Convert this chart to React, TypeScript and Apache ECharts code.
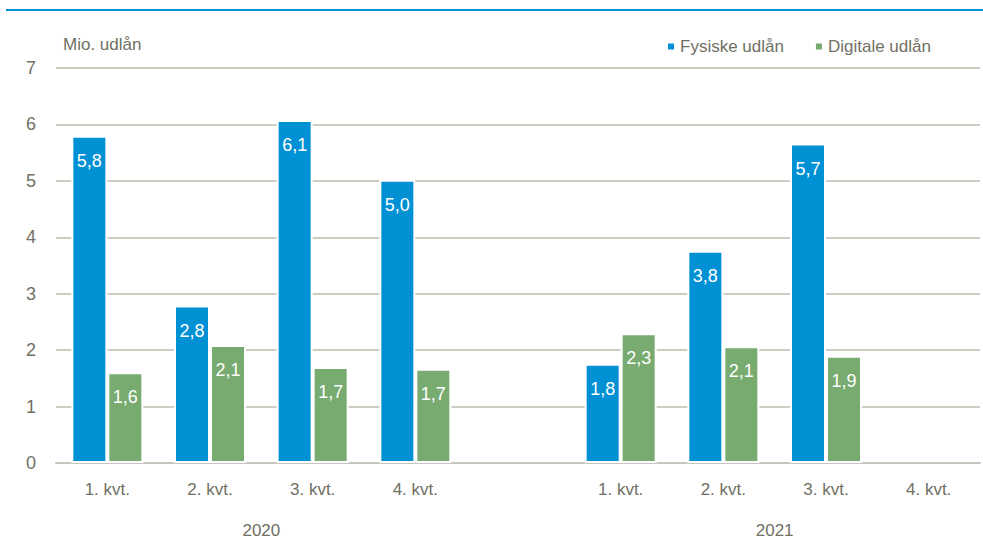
import React, { useEffect, useRef } from "react";
import * as echarts from "echarts";

const categories = ["1. kvt.", "2. kvt.", "3. kvt.", "4. kvt.", "", "1. kvt.", "2. kvt.", "3. kvt.", "4. kvt."];
const fysiske = [5.8, 2.79, 6.08, 5.02, null, 1.76, 3.76, 5.66, null];
const digitale = [1.61, 2.09, 1.7, 1.67, null, 2.3, 2.07, 1.9, null];
const yearLabels: Record<number, string> = { 2: "2020", 7: "2021" };
const seriesNames = ["Fysiske udlån", "Digitale udlån"];

const FONT = "'Liberation Sans', Arial, sans-serif";
const TXT = "#707064";

export default function App() {
  const ref = useRef<HTMLDivElement>(null);
  useEffect(() => {
    document.body.style.margin = "0";
    const chart = echarts.init(ref.current!, null, { renderer: "svg" });
    const label = {
      show: true,
      position: "insideTop",
      distance: 16,
      color: "#ffffff",
      fontFamily: FONT,
      fontSize: 18,
      formatter: (p: any) => (p.value == null ? "" : Number(p.value).toFixed(1).replace(".", ",")),
    };
    chart.setOption({
      animation: false,
      textStyle: { fontFamily: FONT },
      legend: {
        left: 661,
        top: 33,
        icon: "rect",
        itemWidth: 8,
        itemHeight: 8,
        itemGap: 30,
        textStyle: { color: TXT, fontSize: 17, fontFamily: FONT },
        data: seriesNames,
      },
      graphic: [
        { type: "rect", shape: { x: 6, y: 9, width: 977, height: 2 }, style: { fill: "#0090d4" } },
      ],
      grid: { left: 56, top: 68, width: 936, height: 395, containLabel: false },
      xAxis: [
        {
          type: "category",
          data: categories,
          axisTick: { show: false },
          axisLine: { lineStyle: { color: "#c6c6be", width: 2 } },
          axisLabel: { color: TXT, fontSize: 17, fontFamily: FONT, margin: 18, interval: 0 },
        },
        {
          type: "value",
          position: "bottom",
          min: 0,
          max: 9,
          interval: 1,
          offset: 42,
          axisLine: { show: false },
          axisTick: { show: false },
          splitLine: { show: false },
          axisLabel: {
            color: TXT,
            fontSize: 17,
            fontFamily: FONT,
            margin: 17,
            showMinLabel: true,
            showMaxLabel: true,
            formatter: (v: number) => yearLabels[Math.round(v)] || "",
          },
        },
      ],
      yAxis: {
        type: "value",
        min: 0,
        max: 7,
        interval: 1,
        name: "Mio. udlån",
        nameLocation: "end",
        nameGap: 15,
        nameTextStyle: { color: TXT, fontSize: 17, fontFamily: FONT, align: "left", padding: [0, 0, 0, 7] },
        axisLine: { show: false },
        axisTick: { show: false },
        axisLabel: { color: TXT, fontSize: 18, fontFamily: FONT, margin: 20 },
        splitLine: { lineStyle: { color: "#bdbdb0", width: 1.5 } },
      },
      series: [
        {
          name: seriesNames[0],
          type: "bar",
          data: fysiske,
          barWidth: 36,
          barGap: "0%",
          itemStyle: { color: "#0090d4", borderColor: "#ffffff", borderWidth: 2 },
          label,
        },
        {
          name: seriesNames[1],
          type: "bar",
          data: digitale,
          barWidth: 36,
          barGap: "0%",
          itemStyle: { color: "#77ab70", borderColor: "#ffffff", borderWidth: 2 },
          label,
        },
      ],
    });
    return () => chart.dispose();
  }, []);
  return <div ref={ref} style={{ width: 983, height: 539 }} />;
}
